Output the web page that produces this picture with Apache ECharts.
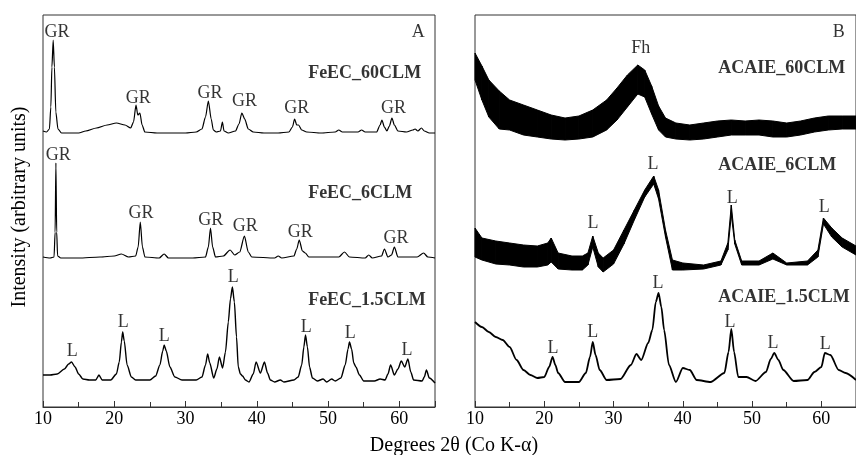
<!DOCTYPE html>
<html>
<head>
<meta charset="utf-8">
<script src="https://cdn.jsdelivr.net/npm/echarts@6/dist/echarts.min.js"></script>
<style>
  html, body { margin: 0; padding: 0; background: #fff; }
  #chart { width: 856px; height: 455px; }
</style>
</head>
<body>
<div id="chart"></div>
<script>
// intensities are in arbitrary units, already offset as plotted
var feec60 = [
  [10, 276], [10.5, 275], [10.9, 278], [11.1, 300], [11.25, 340], [11.43, 367], [11.6, 340], [11.8, 295],
  [12.1, 278], [12.6, 274], [13.5, 274], [15, 274], [16, 276], [17.5, 279], [19, 282], [20.3, 284],
  [21.5, 282], [22.3, 279], [22.7, 285], [23.05, 302], [23.3, 292], [23.6, 294], [23.9, 282], [24.3, 275],
  [26, 274], [28, 274], [30, 274], [31.5, 275], [32.3, 278], [32.8, 290], [33.2, 306], [33.6, 288],
  [33.9, 277], [34.3, 275], [34.9, 276], [35.17, 285], [35.4, 276], [36, 274], [37, 276], [37.5, 283],
  [37.9, 294], [38.3, 288], [38.8, 278], [39.5, 275], [41, 274], [43, 274], [44.5, 275], [45, 280],
  [45.3, 288], [45.6, 282], [45.85, 282], [46.3, 277], [47, 275], [49, 274], [51, 275], [51.5, 277],
  [52, 275], [54.2, 275], [54.7, 277], [55.2, 275], [56.8, 275], [57.3, 282], [57.55, 287], [57.9, 280],
  [58.25, 276], [58.6, 281], [58.96, 289], [59.3, 282], [59.8, 276], [61, 275], [61.9, 277], [62.2, 278],
  [62.6, 276], [63.1, 279], [63.5, 276], [64.2, 274], [65, 274]
];
var feec6 = [
  [10, 150], [11, 149], [11.55, 150], [11.7, 175], [11.81, 244], [11.92, 175], [12.05, 151], [12.5, 149],
  [15, 149], [18, 150], [20, 151], [21, 153], [22, 150], [23, 151], [23.35, 160], [23.65, 185],
  [23.95, 160], [24.3, 150], [26.3, 149], [27, 153], [27.6, 149], [31, 149], [32.8, 150], [33.2, 160],
  [33.5, 179], [33.8, 160], [34.2, 150], [35.3, 151], [36.25, 157], [36.9, 152], [37.6, 155], [38.26, 171],
  [38.8, 155], [39.3, 150], [42.5, 149], [43, 151], [43.5, 149], [45.2, 151], [45.6, 158], [45.95, 167],
  [46.4, 156], [46.8, 154], [47.3, 150], [51.5, 150], [52.3, 155], [53, 150], [55.2, 149], [55.7, 152],
  [56.2, 149], [57.5, 151], [57.9, 158], [58.4, 150], [58.9, 152], [59.3, 160], [59.8, 150], [62.5, 150],
  [63.4, 154], [64, 150], [65, 149]
];
var feec15 = [
  [10, 32], [11, 32], [12, 33], [13, 38], [13.6, 43], [14, 45], [14.5, 40], [15, 33], [15.6, 28],
  [16.5, 27], [17.4, 27], [17.85, 32], [18.3, 27], [19.5, 27], [20.3, 33], [20.7, 45], [21, 65],
  [21.18, 75], [21.4, 66], [21.8, 42], [22.4, 30], [23, 27], [25, 27], [25.8, 31], [26.4, 42], [26.8, 56],
  [27, 62], [27.3, 56], [27.8, 40], [28.5, 30], [29.5, 27], [31.5, 27], [32.3, 30], [32.8, 42], [33.1, 53],
  [33.4, 44], [33.95, 29], [34.4, 38], [34.75, 50], [35.2, 39], [35.6, 55], [36, 85], [36.3, 108],
  [36.57, 120], [36.85, 105], [37.15, 70], [37.4, 40], [37.7, 33], [38, 31], [38.4, 27], [38.9, 25],
  [39.5, 33], [39.9, 45], [40.5, 34], [41.07, 45], [41.5, 34], [41.9, 27], [42.5, 25], [43.3, 27],
  [43.8, 25], [45.2, 27], [45.8, 30], [46.3, 42], [46.6, 60], [46.83, 72], [47.1, 60], [47.4, 40],
  [47.8, 29], [48.5, 26], [49.3, 28], [49.8, 25], [50.5, 28], [51, 26], [51.8, 29], [52.4, 42], [52.8, 58],
  [53, 65], [53.3, 58], [53.6, 44], [53.9, 40], [54.4, 32], [55, 26], [56.5, 26], [57.3, 28], [58, 27],
  [58.4, 33], [58.77, 42], [59.3, 32], [59.8, 38], [60.27, 46], [60.75, 40], [61.2, 48], [61.6, 35],
  [62, 27], [63.2, 26], [63.5, 30], [63.8, 37], [64.2, 29], [65, 24]
];

// noisy patterns of panel B: upper and lower edge of the noise band
var acaie60X = [10, 11, 12, 13.5, 15, 17, 19, 21, 23, 25, 27, 29, 30.5, 32, 33.5, 34.5, 35.5, 36.5, 37.5,
  39, 41, 43, 45, 47, 49, 51, 53, 55, 57, 59, 61, 63, 65];
var acaie60Upper = [354, 341, 327, 316, 307, 302, 297, 292, 289, 291, 297, 307, 319, 332, 342, 337, 321, 301, 289,
  284, 282, 284, 286, 287, 286, 287, 286, 284, 286, 289, 291, 291, 291];
var acaie60Lower = [327, 307, 290, 278, 277, 272, 270, 268, 267, 268, 270, 277, 287, 300, 313, 310, 293, 277, 270,
  268, 267, 268, 270, 272, 272, 272, 270, 270, 272, 275, 277, 278, 278];

var acaie6X = [10, 11, 13, 15, 17, 19, 20.5, 21, 22, 24, 25.5, 26.3, 27, 27.8, 28.5, 30, 31.5, 33, 34.5, 35.8,
  36.5, 37.5, 38.5, 40, 43, 45.5, 46.5, 47, 47.5, 48.5, 51, 53, 55, 58, 59.5, 60.3, 61.5, 63, 65];
var acaie6Upper = [179, 169, 166, 164, 162, 161, 164, 169, 154, 151, 151, 154, 171, 154, 149, 157, 177, 197, 217, 231,
  217, 177, 147, 144, 142, 146, 164, 202, 167, 146, 146, 154, 144, 146, 157, 189, 179, 169, 161];
var acaie6Lower = [150, 147, 143, 142, 140, 140, 142, 145, 138, 137, 137, 142, 160, 140, 135, 143, 163, 187, 210, 223,
  208, 170, 137, 137, 138, 142, 157, 192, 163, 142, 142, 148, 142, 142, 150, 183, 170, 160, 152];

var acaie15 = [
  [10, 85], [11, 80], [12, 75], [13, 70], [14, 67], [15, 60], [16, 47], [17, 37], [18, 32], [19, 29],
  [20, 30], [20.7, 40], [21.2, 50], [21.6, 42], [22, 34], [23, 25], [25, 25], [26, 34], [26.6, 50],
  [27, 65], [27.4, 52], [28, 37], [29, 27], [31, 28], [32.5, 42], [33.3, 53], [34, 47], [35, 64],
  [35.6, 77], [36.1, 105], [36.5, 114], [36.9, 100], [37.3, 77], [38, 42], [39, 25], [40, 39], [41, 37],
  [42, 27], [44, 25], [46, 34], [46.6, 55], [47, 78], [47.4, 55], [48, 30], [49.2, 30], [50.5, 26],
  [52, 35], [52.7, 48], [53.2, 54], [53.8, 47], [54.5, 37], [56, 26], [58, 27], [59, 35], [60, 40],
  [60.5, 54], [61.3, 52], [62.5, 37], [63.5, 34], [65, 27]
];

var peakLabelsA = [
  ['GR', 11.98, 375], ['GR', 23.37, 309], ['GR', 33.44, 314], ['GR', 38.26, 306], ['GR', 45.62, 299], ['GR', 59.19, 299],
  ['GR', 12.13, 252], ['GR', 23.75, 194], ['GR', 33.54, 187], ['GR', 38.36, 181], ['GR', 46.08, 175], ['GR', 59.52, 169],
  ['L', 14.1, 56], ['L', 21.26, 85], ['L', 27.02, 71], ['L', 36.71, 130], ['L', 46.92, 80], ['L', 53.1, 74], ['L', 61.07, 57]
];
var peakLabelsB = [
  ['Fh', 33.92, 359],
  ['L', 27.03, 184], ['L', 35.71, 243], ['L', 47.14, 209], ['L', 60.41, 200],
  ['L', 21.27, 59], ['L', 26.99, 75], ['L', 36.41, 124], ['L', 46.82, 85], ['L', 53.01, 64], ['L', 60.55, 63]
];
var sampleNamesA = [['FeEC_60CLM', 47.2, 334], ['FeEC_6CLM', 47.2, 214], ['FeEC_1.5CLM', 47.2, 107]];
var sampleNamesB = [['ACAIE_60CLM', 45.1, 339], ['ACAIE_6CLM', 45.1, 242], ['ACAIE_1.5CLM', 45.1, 110]];
var panelLetters = [['A', 62.65, 375], ['B', 62.52, 375]];

var FONT = 'Liberation Serif';
var chart = echarts.init(document.getElementById('chart'));

function xAxisFor(gi) {
  return {
    type: 'value', gridIndex: gi, min: 10, max: 65, interval: 10,
    axisLine: { show: true, lineStyle: { color: '#333', width: 1 } },
    axisTick: { show: true, inside: true, length: 6, lineStyle: { color: '#333' } },
    minorTick: { show: true, splitNumber: 2, length: 5, lineStyle: { color: '#333' } },
    splitLine: { show: false },
    axisLabel: { fontSize: 18, fontFamily: FONT, color: '#000', margin: 3, showMaxLabel: false }
  };
}
function yAxisFor(gi) {
  return { type: 'value', gridIndex: gi, min: 0, max: 392, show: false };
}

function trace(data, gi, width) {
  return {
    type: 'line', xAxisIndex: gi, yAxisIndex: gi, data: data, symbol: 'none',
    smooth: 0.25, smoothMonotone: 'x',
    lineStyle: { color: '#000', width: width }
  };
}

// noise band: one filled quad between each pair of neighbouring samples
function band(xs, upper, lower, gi) {
  var segs = [];
  for (var i = 0; i < xs.length - 1; i++) {
    segs.push([xs[i], lower[i], upper[i], xs[i + 1], lower[i + 1], upper[i + 1]]);
  }
  return {
    type: 'custom', xAxisIndex: gi, yAxisIndex: gi, data: segs, silent: true,
    encode: { x: [0, 3], y: [1, 2, 4, 5] },
    renderItem: function (params, api) {
      var pts = [
        api.coord([api.value(0), api.value(1)]),
        api.coord([api.value(3), api.value(4)]),
        api.coord([api.value(3), api.value(5)]),
        api.coord([api.value(0), api.value(2)])
      ];
      return {
        type: 'polygon',
        shape: { points: pts },
        style: { fill: '#000', stroke: '#000', lineWidth: 1 }
      };
    }
  };
}

function textSeries(items, gi, opts) {
  return {
    type: 'scatter', xAxisIndex: gi, yAxisIndex: gi, symbolSize: 0, silent: true, z: 5,
    data: items.map(function (d) { return { name: d[0], value: [d[1], d[2]] }; }),
    label: {
      show: true, position: [0, 0], formatter: '{b}', color: '#000',
      fontFamily: FONT, fontSize: 18, fontWeight: opts.bold ? 'bold' : 'normal',
      align: opts.align || 'center', verticalAlign: 'middle'
    }
  };
}

var series = [
  trace(feec60, 0, 1.2),
  trace(feec6, 0, 1.2),
  trace(feec15, 0, 1.4),
  trace(acaie15, 1, 1.8),
  band(acaie60X, acaie60Upper, acaie60Lower, 1),
  band(acaie6X, acaie6Upper, acaie6Lower, 1),
  textSeries(peakLabelsA, 0, {}),
  textSeries(peakLabelsB, 1, {}),
  textSeries(sampleNamesA, 0, { bold: true, align: 'left' }),
  textSeries(sampleNamesB, 1, { bold: true, align: 'left' }),
  textSeries([panelLetters[0]], 0, {}),
  textSeries([panelLetters[1]], 1, {})
];

var option = {
  animation: false,
  backgroundColor: '#fff',
  grid: [
    { left: 43, top: 15, width: 392, height: 392, show: true, borderColor: '#333', borderWidth: 1 },
    { left: 475, top: 15, width: 391, height: 392, show: true, borderColor: '#333', borderWidth: 1 }
  ],
  xAxis: [xAxisFor(0), xAxisFor(1)],
  yAxis: [yAxisFor(0), yAxisFor(1)],
  graphic: [
    {
      type: 'text', x: 20, y: 207, rotation: Math.PI / 2,
      style: { text: 'Intensity (arbitrary units)', fontSize: 20, fontFamily: FONT, fill: '#000',
        align: 'center', verticalAlign: 'middle' }
    },
    {
      type: 'text', x: 454, y: 446,
      style: { text: 'Degrees 2\u03b8 (Co K-\u03b1)', fontSize: 20, fontFamily: FONT, fill: '#000',
        align: 'center', verticalAlign: 'middle' }
    }
  ],
  series: series
};

option && chart.setOption(option);
</script>
</body>
</html>
